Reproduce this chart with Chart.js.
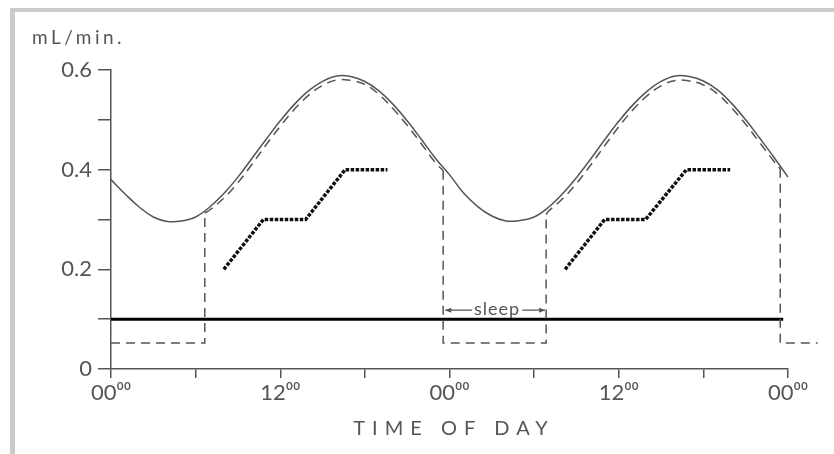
<!DOCTYPE html>
<html lang="en">
<head>
    <meta charset="UTF-8">
    <title>Rate vs time of day</title>
    <script src="https://cdn.jsdelivr.net/npm/chart.js"></script>
    <style>
        body {
            margin: 0;
            background: #fff;
        }
        #wrap {
            position: relative;
            width: 834px;
            height: 454px;
        }
        #frame {
            position: absolute;
            left: 10px;
            top: 8px;
            right: 0;
            bottom: 0;
            border-left: 5px solid #cbcbcb;
            border-top: 4px solid #cbcbcb;
            pointer-events: none;
        }
    </style>
</head>
<body>
    <div id="wrap">
        <canvas id="chart" width="834" height="454"></canvas>
        <div id="frame"></div>
    </div>

    <script>
        // solid curve (hours 0-48)
        const solidHours = [0, 1, 2, 3, 4, 5, 6, 7, 8, 9, 10, 11, 12, 13, 14, 15, 16, 17, 18, 19, 20, 21, 22, 23,
            24, 25, 26, 27, 28, 29, 30, 31, 32, 33, 34, 35, 36, 37, 38, 39, 40, 41, 42, 43, 44, 45, 46, 47, 48, 48.3];
        const solidRate = [0.38, 0.351, 0.325, 0.305, 0.296, 0.297, 0.305, 0.325, 0.352, 0.385, 0.423, 0.461,
            0.498, 0.531, 0.558, 0.577, 0.588, 0.587, 0.577, 0.558, 0.531, 0.498, 0.461, 0.423,
            0.39, 0.353, 0.326, 0.307, 0.297, 0.298, 0.305, 0.324, 0.351, 0.384, 0.421, 0.46,
            0.497, 0.53, 0.557, 0.577, 0.588, 0.587, 0.578, 0.56, 0.533, 0.5, 0.463, 0.425, 0.385, 0.373];

        // dashed curve while awake
        const wakeHours1 = [6.65, 7, 8, 9, 10, 11, 12, 13, 14, 15, 16, 17, 18, 19, 20, 21, 22, 23, 23.55];
        const wakeRate1 = [0.313, 0.319, 0.343, 0.374, 0.411, 0.45, 0.487, 0.521, 0.549, 0.569, 0.58, 0.579,
            0.571, 0.551, 0.522, 0.489, 0.452, 0.414, 0.398];
        const wakeHours2 = [30.85, 31, 32, 33, 34, 35, 36, 37, 38, 39, 40, 41, 42, 43, 44, 45, 46, 47, 47.45];
        const wakeRate2 = [0.31, 0.316, 0.341, 0.372, 0.409, 0.448, 0.486, 0.52, 0.548, 0.568, 0.579, 0.578,
            0.57, 0.552, 0.524, 0.491, 0.454, 0.417, 0.402];

        // dashed drop during sleep
        const sleepHours = [0, 6.65, 6.65, 15, 23.55, 23.55, 30.85, 30.85, 40, 47.45, 47.45, 50.1];
        const sleepRate = [0.052, 0.052, 0.313, null, 0.398, 0.052, 0.052, 0.31, null, 0.402, 0.052, 0.052];

        // flat line
        const baseHours = [0, 47.66];
        const baseRate = [0.1, 0.1];

        // thick dotted steps
        const stepHours1 = [8, 10.8, 13.8, 16.6, 19.6];
        const stepHours2 = [32.2, 35, 37.9, 40.8, 43.9];
        const stepRate = [0.2, 0.3, 0.3, 0.4, 0.4];

        const yTicks = [0, 0.2, 0.4, 0.6];

        const ink = '#555';
        const font = 'Lato, "DejaVu Sans", sans-serif';

        function pts(xs, ys) {
            return xs.map((x, i) => ({ x: x, y: ys[i] }));
        }

        const textPlugin = {
            id: 'texts',
            afterDraw(chart) {
                const ctx = chart.ctx;
                const x = chart.scales.x;
                const y = chart.scales.y;
                ctx.save();
                ctx.fillStyle = ink;
                ctx.strokeStyle = ink;
                ctx.textBaseline = 'middle';

                ctx.font = '19px ' + font;
                ctx.letterSpacing = '3.5px';
                ctx.textAlign = 'left';
                ctx.fillText('mL/min.', 32, 38);

                ctx.font = '20px ' + font;
                ctx.letterSpacing = '7px';
                ctx.textAlign = 'center';
                ctx.fillText('TIME OF DAY', 454, 429);

                // sleep marker
                const x1 = x.getPixelForValue(23.55) + 2;
                const x2 = x.getPixelForValue(30.85) - 1;
                const yy = y.getPixelForValue(0.12);
                const mid = (x1 + x2) / 2 + 2;
                ctx.font = '18px ' + font;
                ctx.letterSpacing = '1px';
                ctx.fillText('sleep', mid, yy);
                const half = ctx.measureText('sleep').width / 2 + 2;
                ctx.lineWidth = 1.2;
                ctx.beginPath();
                ctx.moveTo(mid - half, yy + 1);
                ctx.lineTo(x1, yy + 1);
                ctx.moveTo(mid + half, yy + 1);
                ctx.lineTo(x2, yy + 1);
                ctx.stroke();
                ctx.beginPath();
                ctx.moveTo(x1, yy + 1);
                ctx.lineTo(x1 + 6, yy - 1.5);
                ctx.lineTo(x1 + 6, yy + 3.5);
                ctx.closePath();
                ctx.moveTo(x2, yy + 1);
                ctx.lineTo(x2 - 6, yy - 1.5);
                ctx.lineTo(x2 - 6, yy + 3.5);
                ctx.closePath();
                ctx.fill();
                ctx.restore();
            }
        };

        new Chart(document.getElementById('chart'), {
            type: 'line',
            data: {
                datasets: [
                    {
                        label: 'solid',
                        data: pts(solidHours, solidRate),
                        borderColor: ink,
                        borderWidth: 1.5,
                        tension: 0.4,
                        clip: false
                    },
                    {
                        label: 'awake 1',
                        data: pts(wakeHours1, wakeRate1),
                        borderColor: ink,
                        borderWidth: 1.5,
                        borderDash: [9, 6],
                        tension: 0.4
                    },
                    {
                        label: 'awake 2',
                        data: pts(wakeHours2, wakeRate2),
                        borderColor: ink,
                        borderWidth: 1.5,
                        borderDash: [9, 6],
                        tension: 0.4
                    },
                    {
                        label: 'sleep',
                        data: pts(sleepHours, sleepRate),
                        borderColor: ink,
                        borderWidth: 1.5,
                        borderDash: [9, 6],
                        tension: 0,
                        spanGaps: false,
                        clip: false
                    },
                    {
                        label: 'base',
                        data: pts(baseHours, baseRate),
                        borderColor: '#000',
                        borderWidth: 3,
                        tension: 0
                    },
                    {
                        label: 'steps 1',
                        data: pts(stepHours1, stepRate),
                        borderColor: '#111',
                        borderWidth: 3.5,
                        borderDash: [3.5, 1.5],
                        tension: 0
                    },
                    {
                        label: 'steps 2',
                        data: pts(stepHours2, stepRate),
                        borderColor: '#111',
                        borderWidth: 3.5,
                        borderDash: [3.5, 1.5],
                        tension: 0
                    }
                ]
            },
            options: {
                responsive: false,
                animation: false,
                events: [],
                elements: { point: { radius: 0 } },
                layout: { padding: { left: 0, top: 70, right: 46, bottom: 0 } },
                plugins: {
                    legend: { display: false },
                    tooltip: { enabled: false }
                },
                scales: {
                    x: {
                        type: 'linear',
                        min: 0,
                        max: 48,
                        afterFit: (s) => { s.height = 85; },
                        border: { display: true, color: ink, width: 1.5 },
                        grid: { drawOnChartArea: false, drawTicks: true, tickLength: 9, color: ink, lineWidth: 1.5 },
                        ticks: {
                            stepSize: 6,
                            autoSkip: false,
                            maxRotation: 0,
                            padding: 2,
                            color: ink,
                            font: { family: font, size: 22 },
                            callback: (v) => (v % 24 === 0 ? '00⁰⁰' : (v % 12 === 0 ? '12⁰⁰' : ''))
                        }
                    },
                    y: {
                        min: 0,
                        max: 0.6,
                        afterFit: (s) => { s.width = 111; },
                        border: { display: true, color: ink, width: 1.5 },
                        grid: { drawOnChartArea: false, drawTicks: true, tickLength: 13, color: ink, lineWidth: 1.5 },
                        ticks: {
                            stepSize: 0.1,
                            padding: 6,
                            color: ink,
                            font: { family: font, size: 22 },
                            callback: (v) => {
                                const t = yTicks.find(k => Math.abs(k - v) < 1e-6);
                                if (t === undefined) return '';
                                return t === 0 ? '0' : t.toFixed(1);
                            }
                        }
                    }
                }
            },
            plugins: [textPlugin]
        });
    </script>
</body>
</html>
